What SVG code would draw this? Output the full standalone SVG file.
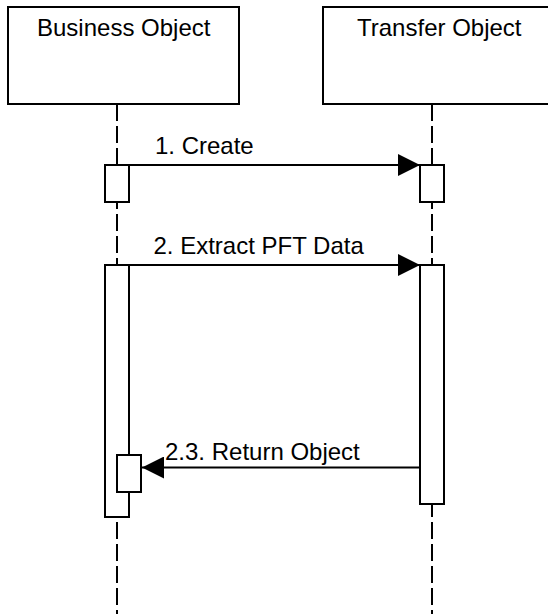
<svg xmlns="http://www.w3.org/2000/svg" width="548" height="614" viewBox="0 0 548 614">
<defs>
<style>
.box{fill:#fff;stroke:#000;stroke-width:2}
.life{stroke:#000;stroke-width:2;stroke-dasharray:17 5;fill:none}
.act{fill:#fff;stroke:#000;stroke-width:2}
.msg{stroke:#000;stroke-width:2;fill:none}
.lbl{font-family:"Liberation Sans",Arial,sans-serif;font-size:24px;fill:#000}
</style>
<marker id="arr" markerUnits="userSpaceOnUse" markerWidth="22" markerHeight="22" viewBox="0 0 21 21" refX="21" refY="10.5" orient="auto">
<path d="M0,0 L21,10.5 L0,21 Z" fill="#000"/>
</marker>
</defs>
<g id="business-object">
<rect class="box" x="8" y="7" width="231" height="97"/>
<text class="lbl" x="37" y="36">Business Object</text>
</g>
<g id="transfer-object">
<rect class="box" x="323" y="7" width="240" height="97"/>
<text class="lbl" x="357" y="36">Transfer Object</text>
</g>
<g id="lifelines">
<line class="life" x1="117" y1="104" x2="117" y2="614"/>
<line class="life" x1="432" y1="104" x2="432" y2="614"/>
</g>
<g id="activation-bo-1"><rect class="act" x="105" y="165" width="24" height="37"/></g>
<g id="activation-to-1"><rect class="act" x="420" y="165" width="24" height="37"/></g>
<g id="activation-bo-2"><rect class="act" x="105" y="265" width="24" height="252"/></g>
<g id="activation-to-2"><rect class="act" x="420" y="265" width="24" height="239"/></g>
<g id="activation-bo-3"><rect class="act" x="117" y="455" width="24" height="37"/></g>
<g id="connectors">
<line class="msg" x1="129" y1="165" x2="420" y2="165" marker-end="url(#arr)"/>
<line class="msg" x1="129" y1="265" x2="420" y2="265" marker-end="url(#arr)"/>
<line class="msg" x1="420" y1="467.5" x2="142" y2="467.5" marker-end="url(#arr)"/>
<text class="lbl" x="155" y="154">1. Create</text>
<text class="lbl" x="153.5" y="254">2. Extract PFT Data</text>
<text class="lbl" x="165" y="460">2.3. Return Object</text>
</g>
</svg>
